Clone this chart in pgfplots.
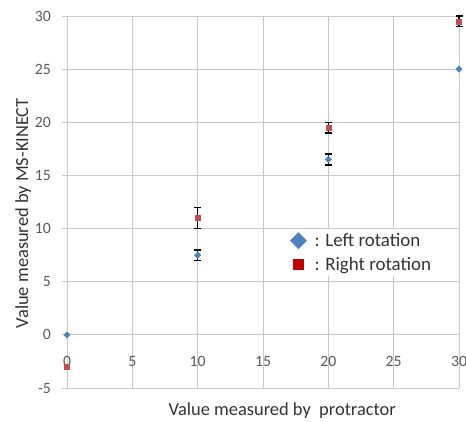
\documentclass[border=0pt]{standalone}
\usepackage{fontspec}
\setmainfont{Carlito}
\usepackage{pgfplots}
\pgfplotsset{compat=1.18}
\definecolor{gridc}{HTML}{C8C8C8}
\definecolor{txt}{HTML}{595959}
\definecolor{lblue}{HTML}{4F81BD}
\definecolor{lred}{HTML}{C0504D}
\definecolor{dred}{HTML}{C00000}
\begin{document}
\begin{tikzpicture}[x=1bp,y=1bp]
\begin{axis}[
  at={(67bp,33bp)}, anchor=south west,
  scale only axis, width=392bp, height=372bp,
  xmin=0, xmax=30, ymin=-5, ymax=30,
  xtick={0,5,...,30}, ytick={-5,0,...,30},
  grid=major, major grid style={gridc, line width=0.9bp},
  axis line style={draw=none},
  x tick style={draw=none},
  y tick style={gridc, line width=0.9bp},
  tick align=outside, major tick length=5bp,
  ytick pos=left,
  /pgf/number format/assume math mode=true,
  tick label style={font=\fontsize{15.8}{18}\selectfont, text=txt},
  xticklabel style={anchor=center, yshift=32bp},
  yticklabel style={anchor=east, inner sep=0pt, xshift=-11bp},
  clip=false,
  legend style={at={(axis description cs:0.551,0.427)}, anchor=north west,
    draw=none, fill=white, inner xsep=7bp, inner ysep=3bp,
    font=\fontsize{19}{21}\selectfont, text=black!80, row sep=7bp,
    column sep=7bp, nodes={inner sep=1bp}},
  legend cell align=left,
]
% legend images
\addlegendimage{only marks, mark=square*, mark size=5.8bp, mark options={rotate=45, fill=lblue, draw=lblue}}
\addlegendentry{: Left rotation\hspace{26bp}}
\addlegendimage{only marks, mark=square*, mark size=5bp, mark options={fill=dred, draw=dred}}
\addlegendentry{: Right rotation\hspace{26bp}}
% left rotation with error bars
\addplot[forget plot, only marks, mark=square*, mark size=2.3bp, mark options={rotate=45, fill=lblue, draw=lblue},
  error bars/.cd, y dir=both, y explicit,
  error bar style={black, line width=1.4bp},
  error mark options={black, rotate=90, mark size=3.5bp, line width=1.4bp}]
  coordinates {(10,7.5) +- (0,0.5) (20,16.5) +- (0,0.5)};
\addplot[forget plot, only marks, mark=square*, mark size=2.3bp, mark options={rotate=45, fill=lblue, draw=lblue}]
  coordinates {(0,0) (30,25)};
% right rotation
\addplot[forget plot, only marks, mark=square*, mark size=2.6bp, mark options={fill=lred, draw=lred},
  error bars/.cd, y dir=both, y explicit,
  error bar style={black, line width=1.4bp},
  error mark options={black, rotate=90, mark size=3.5bp, line width=1.4bp}]
  coordinates {(10,11) +- (0,1) (20,19.5) +- (0,0.5) (30,29.5) +- (0,0.5)};
\addplot[forget plot, only marks, mark=square*, mark size=2.6bp, mark options={fill=lred, draw=lred}]
  coordinates {(0,-3)};
\node[font=\fontsize{18.5}{20}\selectfont, text=black!80] at (axis description cs:0.549,-0.062) {Value measured by\ \ protractor};
\node[font=\fontsize{18.5}{20}\selectfont, text=black!80, rotate=90] at (axis description cs:-0.112,0.47) {Value measured by MS-KINECT};
\end{axis}
\pgfresetboundingbox
\useasboundingbox (0,0) rectangle (466,421);
\end{tikzpicture}
\end{document}
